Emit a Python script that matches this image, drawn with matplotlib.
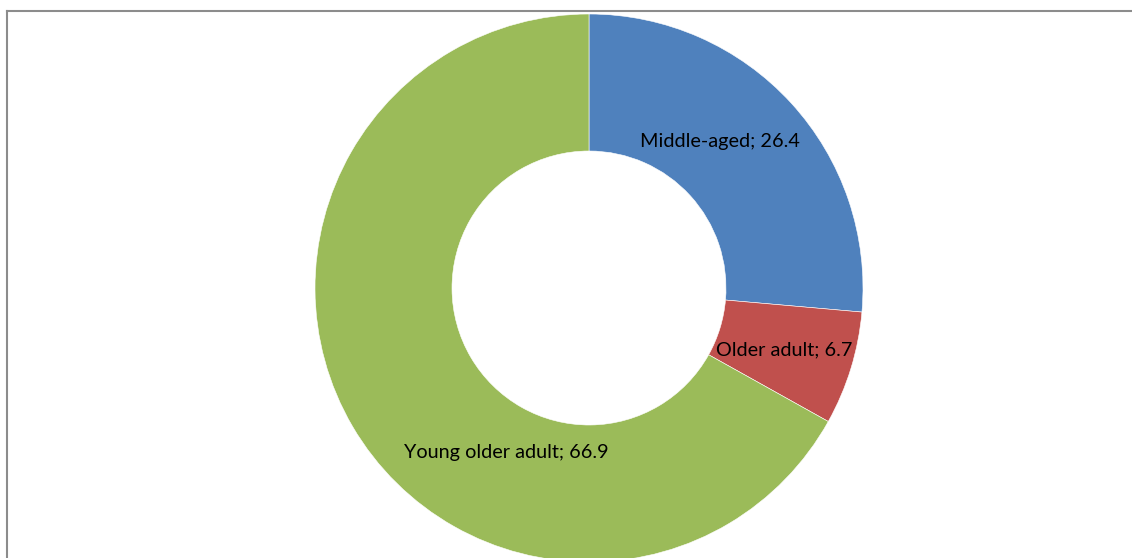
import matplotlib.pyplot as plt
from matplotlib.lines import Line2D

# Age group shares (%)
groups = ["Middle-aged", "Older adult", "Young older adult"]
shares = [26.4, 6.7, 66.9]
colors = ["#4F81BD", "#C0504D", "#9BBB59"]

# label centres in data units (ring centre = 0,0; outer radius = 1)
label_pos = [(0.477, 0.534), (0.712, -0.226), (-0.30, -0.599)]

W, H = 1132, 558
fig = plt.figure(figsize=(W / 100, H / 100), dpi=100)

# chart frame (cropped on right/bottom)
fig.add_artist(Line2D([6.5 / W, 6.5 / W], [0, 1 - 10.5 / H], color="#8c8c8c", lw=1.5))
fig.add_artist(Line2D([6.5 / W, 1], [1 - 10.5 / H, 1 - 10.5 / H], color="#8c8c8c", lw=1.5))

cx, cy, r = 589, 288, 274
ax = fig.add_axes([(cx - r) / W, (H - cy - r) / H, 2 * r / W, 2 * r / H])
ax.pie(
    shares,
    colors=colors,
    startangle=90,
    counterclock=False,
    radius=1,
    wedgeprops=dict(width=0.5, edgecolor="white", linewidth=0.4),
)
ax.set_xlim(-1, 1)
ax.set_ylim(-1, 1)
ax.set_aspect("equal")
ax.axis("off")

for name, val, (x, y) in zip(groups, shares, label_pos):
    ax.text(x, y, f"{name}; {val}", ha="center", va="center",
            fontsize=14.3, family="Lato", color="black")

fig.savefig("out.png", dpi=100)
